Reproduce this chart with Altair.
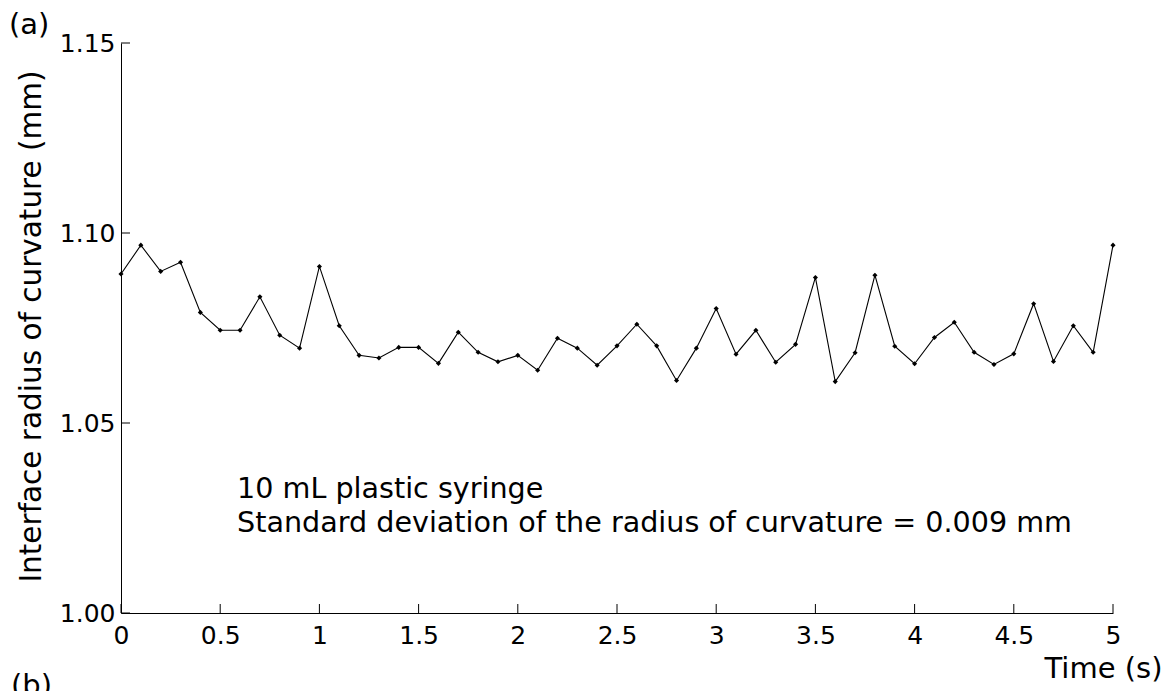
import altair as alt
import pandas as pd

time_s = [0.0, 0.1, 0.2, 0.3, 0.4, 0.5, 0.6, 0.7, 0.8, 0.9,
          1.0, 1.1, 1.2, 1.3, 1.4, 1.5, 1.6, 1.7, 1.8, 1.9,
          2.0, 2.1, 2.2, 2.3, 2.4, 2.5, 2.6, 2.7, 2.8, 2.9,
          3.0, 3.1, 3.2, 3.3, 3.4, 3.5, 3.6, 3.7, 3.8, 3.9,
          4.0, 4.1, 4.2, 4.3, 4.4, 4.5, 4.6, 4.7, 4.8, 4.9, 5.0]
radius_mm = [1.0892, 1.0968, 1.0899, 1.0923, 1.0791, 1.0744, 1.0744, 1.0832, 1.0731, 1.0697,
             1.0912, 1.0756, 1.0678, 1.0671, 1.0699, 1.0699, 1.0657, 1.0739, 1.0686, 1.0661,
             1.0678, 1.0639, 1.0723, 1.0697, 1.0652, 1.0703, 1.0760, 1.0703, 1.0612, 1.0697,
             1.0801, 1.0681, 1.0744, 1.0660, 1.0707, 1.0883, 1.0609, 1.0685, 1.0889, 1.0702,
             1.0656, 1.0725, 1.0765, 1.0686, 1.0654, 1.0682, 1.0814, 1.0662, 1.0756, 1.0686, 1.0968]

x_ticks = [0, 0.5, 1, 1.5, 2, 2.5, 3, 3.5, 4, 4.5, 5]
y_ticks = [1.00, 1.05, 1.10, 1.15]

note_lines = ["10 mL plastic syringe",
              "Standard deviation of the radius of curvature = 0.009 mm"]
note_x = [0.585, 0.585]
note_y = [1.0303, 1.0213]

FONT = "DejaVu Sans"
W, H = 992, 570

df = pd.DataFrame({"t": time_s, "r": radius_mm})
xt = pd.DataFrame({"t": x_ticks})
yt = pd.DataFrame({"r": y_ticks})
notes = pd.DataFrame({"t": note_x, "r": note_y, "label": note_lines})

xscale = alt.Scale(domain=[0, 5], nice=False, zero=False)
yscale = alt.Scale(domain=[1.0, 1.15], nice=False, zero=False)

x_axis = alt.Axis(values=x_ticks, format="~g", title="Time (s)", tickSize=0,
                  labelPadding=10, labelFlush=False, labelOverlap=False,
                  domainColor="black", labelColor="black", labelFont=FONT, labelFontSize=25,
                  titleFont=FONT, titleFontSize=29, titleFontWeight="normal", titleColor="black",
                  titleX=982, titleY=64, titleAlign="center", titleBaseline="alphabetic",
                  grid=False)
y_axis = alt.Axis(values=y_ticks, format=".2f", title="Interface radius of curvature (mm)",
                  tickSize=0, labelPadding=6, labelOverlap=False, labelFlush=False,
                  domainColor="black", labelColor="black", labelFont=FONT, labelFontSize=25,
                  titleFont=FONT, titleFontSize=29.5, titleFontWeight="normal", titleColor="black",
                  titleX=-90, titleY=283, titleAngle=270, titleAlign="center",
                  titleBaseline="middle", grid=False)

line = alt.Chart(df).mark_line(color="black", strokeWidth=1.1).encode(
    x=alt.X("t:Q", scale=xscale, axis=x_axis),
    y=alt.Y("r:Q", scale=yscale, axis=y_axis),
)
pts = alt.Chart(df).mark_point(shape="diamond", filled=True, color="black", size=26, opacity=1).encode(
    x=alt.X("t:Q", scale=xscale),
    y=alt.Y("r:Q", scale=yscale),
)
xtick_rules = alt.Chart(xt).mark_rule(color="black", strokeWidth=1).encode(
    x=alt.X("t:Q", scale=xscale),
    y=alt.value(H),
    y2=alt.value(H - 9),
)
ytick_rules = alt.Chart(yt).mark_rule(color="black", strokeWidth=1).encode(
    y=alt.Y("r:Q", scale=yscale),
    x=alt.value(0),
    x2=alt.value(9),
)
note_text = alt.Chart(notes).mark_text(align="left", baseline="alphabetic", font=FONT,
                                        fontSize=28.6, color="black").encode(
    x=alt.X("t:Q", scale=xscale),
    y=alt.Y("r:Q", scale=yscale),
    text="label:N",
)
panel_a = alt.Chart(pd.DataFrame({"label": ["(a)"]})).mark_text(
    align="left", baseline="alphabetic", font=FONT, fontSize=29, color="black").encode(
    x=alt.value(-112), y=alt.value(-9), text="label:N")
panel_b = alt.Chart(pd.DataFrame({"label": ["(b)"]})).mark_text(
    align="left", baseline="alphabetic", font=FONT, fontSize=29, color="black").encode(
    x=alt.value(-110), y=alt.value(652), text="label:N")

chart = alt.layer(line, pts, xtick_rules, ytick_rules, note_text, panel_a, panel_b).properties(
    width=W, height=H,
    autosize=alt.AutoSizeParams(type="none"),
    padding={"left": 113, "top": 35, "right": 50, "bottom": 78},
    background="white",
).configure_view(stroke=None).configure_axis(domainWidth=1)

chart.save("out.html", embed_options={"renderer": "svg", "actions": False})
